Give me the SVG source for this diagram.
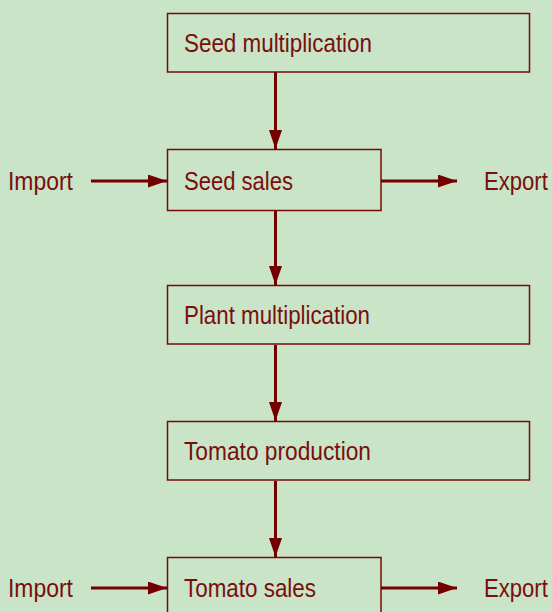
<svg xmlns="http://www.w3.org/2000/svg" width="552" height="612" viewBox="0 0 552 612">
<defs>
<style>
.box{fill:none;stroke:#7a0a0a;stroke-width:1.5}
.lbl{font-family:"Liberation Sans",Arial,sans-serif;font-size:26px;fill:#7a0e0e}
.ln{stroke:#730000;stroke-width:3;fill:none}
</style>
<marker id="ah" viewBox="0 0 19 13" refX="19" refY="6.5" markerWidth="19" markerHeight="13" markerUnits="userSpaceOnUse" orient="auto">
<path d="M0,0 L19,6.5 L0,13 Z" fill="#730000"/>
</marker>
</defs>
<rect width="552" height="612" fill="#c9e4c6"/>
<g id="connectors">
<line class="ln" x1="275.5" y1="72" x2="275.5" y2="149" marker-end="url(#ah)"/>
<line class="ln" x1="275.5" y1="211" x2="275.5" y2="285" marker-end="url(#ah)"/>
<line class="ln" x1="275.5" y1="345" x2="275.5" y2="421" marker-end="url(#ah)"/>
<line class="ln" x1="275.5" y1="481" x2="275.5" y2="557" marker-end="url(#ah)"/>
<line class="ln" x1="91" y1="181" x2="167" y2="181" marker-end="url(#ah)"/>
<line class="ln" x1="381" y1="181" x2="457" y2="181" marker-end="url(#ah)"/>
<line class="ln" x1="91" y1="588" x2="167" y2="588" marker-end="url(#ah)"/>
<line class="ln" x1="381" y1="588" x2="457" y2="588" marker-end="url(#ah)"/>
</g>
<g id="n1"><rect class="box" x="167.5" y="13.5" width="362" height="58.5"/><text class="lbl" x="184" y="52" textLength="188" lengthAdjust="spacingAndGlyphs">Seed multiplication</text></g>
<g id="n2"><rect class="box" x="167.5" y="149.5" width="213.5" height="61"/><text class="lbl" x="184" y="190" textLength="109" lengthAdjust="spacingAndGlyphs">Seed sales</text></g>
<g id="n3"><rect class="box" x="167.5" y="285.5" width="362" height="58.5"/><text class="lbl" x="184" y="324" textLength="186" lengthAdjust="spacingAndGlyphs">Plant multiplication</text></g>
<g id="n4"><rect class="box" x="167.5" y="421.5" width="362" height="58.5"/><text class="lbl" x="184" y="460" textLength="187" lengthAdjust="spacingAndGlyphs">Tomato production</text></g>
<g id="n5"><rect class="box" x="167.5" y="557.5" width="213.5" height="60"/><text class="lbl" x="184" y="597" textLength="132" lengthAdjust="spacingAndGlyphs">Tomato sales</text></g>
<g id="import1"><text class="lbl" x="8" y="190" textLength="65" lengthAdjust="spacingAndGlyphs">Import</text></g>
<g id="export1"><text class="lbl" transform="translate(484,190) scale(0.85,1)">Export</text></g>
<g id="import2"><text class="lbl" x="8" y="597" textLength="65" lengthAdjust="spacingAndGlyphs">Import</text></g>
<g id="export2"><text class="lbl" transform="translate(484,597) scale(0.85,1)">Export</text></g>
</svg>
